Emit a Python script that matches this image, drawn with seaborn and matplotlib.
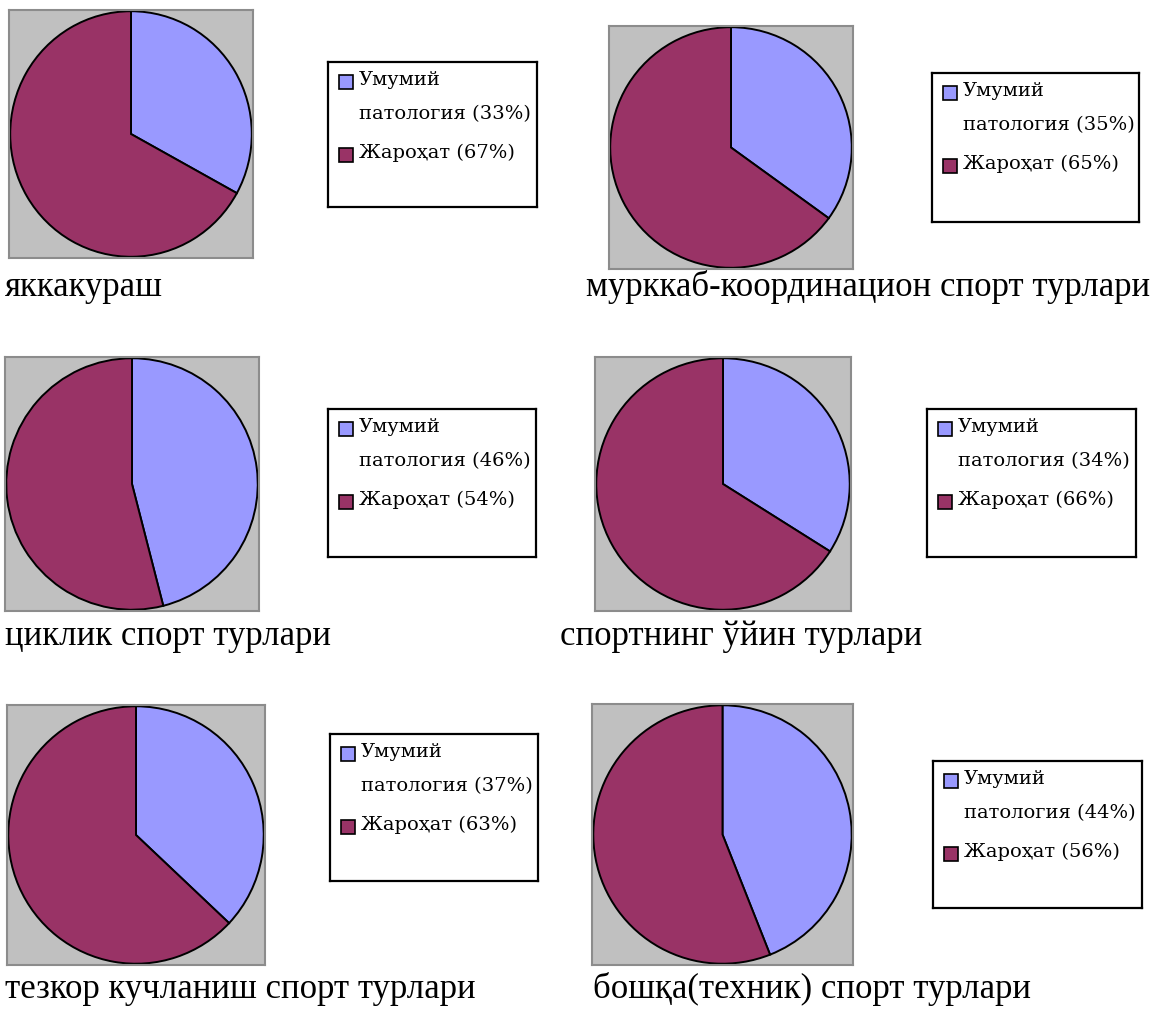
import matplotlib
matplotlib.use("Agg")
import matplotlib.pyplot as plt
from matplotlib.patches import Rectangle
import seaborn as sns

# data
sports = ["яккакураш", "мурккаб-координацион спорт турлари",
          "циклик спорт турлари", "спортнинг ўйин турлари",
          "тезкор кучланиш спорт турлари", "бошқа(техник) спорт турлари"]
categories = ["Умумий\nпатология", "Жароҳат"]
pathology = [33, 35, 46, 34, 37, 44]
injury = [67, 65, 54, 66, 63, 56]

sns.set_theme(style="white")
plt.rcParams['font.family'] = ['Liberation Serif', 'DejaVu Serif']
colors = sns.color_palette(["#9999FF", "#993366"])

W, H = 1151, 1009
fig = plt.figure(figsize=(W / 100, H / 100), dpi=100)
fig.patch.set_facecolor("white")

def rect(x0, y0, x1, y1):
    return [x0 / W, 1 - y1 / H, (x1 - x0) / W, (y1 - y0) / H]

# pixel boxes: pie panel, legend box, caption (x, baseline)
pie_boxes = [(9, 10, 253, 258), (609, 26, 853, 269),
             (5, 357, 259, 611), (595, 357, 851, 611),
             (7, 705, 265, 965), (592, 704, 853, 965)]
leg_boxes = [(328, 62, 537, 207), (932, 73, 1139, 222),
             (328, 409, 536, 557), (927, 409, 1136, 557),
             (330, 734, 538, 881), (933, 761, 1142, 908)]
cap_pos = [(5, 296), (586, 296), (5, 645), (560, 645), (5, 998), (593, 998)]

for i in range(6):
    vals = [pathology[i], injury[i]]

    ax = fig.add_axes(rect(*pie_boxes[i]))
    ax.pie(vals, colors=colors, startangle=90, counterclock=False,
           wedgeprops=dict(edgecolor="black", linewidth=1.4))
    ax.set_aspect("auto")
    ax.set_xlim(-1.01, 1.01)
    ax.set_ylim(-1.01, 1.01)
    ax.set_frame_on(True)
    ax.set_facecolor("#C0C0C0")
    for s in ax.spines.values():
        s.set_color("#8C8C8C")
        s.set_linewidth(1.5)
    ax.set_xticks([])
    ax.set_yticks([])

    # legend box, drawn in pixel units
    lx0, ly0, lx1, ly1 = leg_boxes[i]
    lax = fig.add_axes(rect(lx0, ly0, lx1, ly1))
    lax.set_xlim(0, lx1 - lx0)
    lax.set_ylim(ly1 - ly0, 0)
    lax.set_xticks([])
    lax.set_yticks([])
    for s in lax.spines.values():
        s.set_color("black")
        s.set_linewidth(1.6)
    labels = [f"{categories[0]} ({pathology[i]}%)", f"{categories[1]} ({injury[i]}%)"]
    rows = [20, 93]
    for c, lab, y in zip(colors, labels, rows):
        lax.add_patch(Rectangle((11, y - 7), 14, 14, facecolor=c,
                                edgecolor="black", linewidth=1.2))
        lax.text(31, y - 11, lab, ha="left", va="top", fontsize=14,
                 family=["DejaVu Serif"], linespacing=2.15, color="black")

    cx, cy = cap_pos[i]
    fig.text(cx / W, 1 - cy / H, sports[i], fontsize=25, ha="left",
             va="baseline", color="black")

fig.savefig("out.png", dpi=100)
